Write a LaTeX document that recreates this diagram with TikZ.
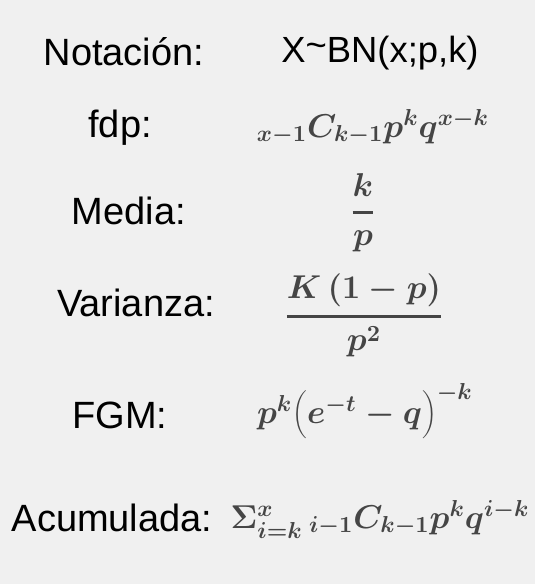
\documentclass[tikz,border=0pt]{standalone}
\usepackage{fix-cm}
\usepackage{fontspec}
\setmainfont{Liberation Sans}
\usepackage{xcolor}
\usepackage{tikz}

\definecolor{bggray}{HTML}{F0F0F0}
\definecolor{mathgray}{HTML}{454545}

\tikzset{
    label/.style={anchor=base, inner sep=0pt, font=\fontsize{19}{22}\selectfont},
    formula/.style={anchor=base, inner sep=0pt, text=mathgray, font=\fontsize{16.5}{19}\selectfont\boldmath},
}

\begin{document}
\begin{tikzpicture}[x=0.5pt, y=-0.5pt]
    \fill[bggray] (0,0) rectangle (535,584);
    \useasboundingbox (0,0) rectangle (535,584);

    \node[label] (notacion) at (124,65) {Notación:};
    \node[label] (fdp) at (120,137) {fdp:};
    \node[label] (media) at (129,224) {Media:};
    \node[label] (varianza) at (136,316) {Varianza:};
    \node[label] (fgm) at (120,428) {FGM:};
    \node[label] (acumulada) at (112,531) {Acumulada:};

    \node[anchor=base, inner sep=0pt, font=\fontsize{18.2}{21}\selectfont] (notacionval) at (380,62) {X\raisebox{0.12em}{\textasciitilde}BN(x;p,k)};
    \node[formula] (fdpval) at (373,137) {${}_{x-1}C_{k-1}p^kq^{x-k}$};
    \node[formula] (mediaval) at (363,221) {$\displaystyle{k \above 1.4pt p}$};
    \node[formula] (varianzaval) at (364,325) {$\displaystyle{K\,(1-p) \above 1.4pt p^2}$};
    \node[formula] (fgmval) at (365,423) {$p^k\!\left(e^{-t}-q\vrule height 16pt depth 6pt width 0pt\right)^{-k}$};
    \node[formula] (acumuladaval) at (380,528) {$\Sigma^{x}_{i=k}\,{}_{i-1}C_{k-1}p^kq^{i-k}$};
\end{tikzpicture}
\end{document}
